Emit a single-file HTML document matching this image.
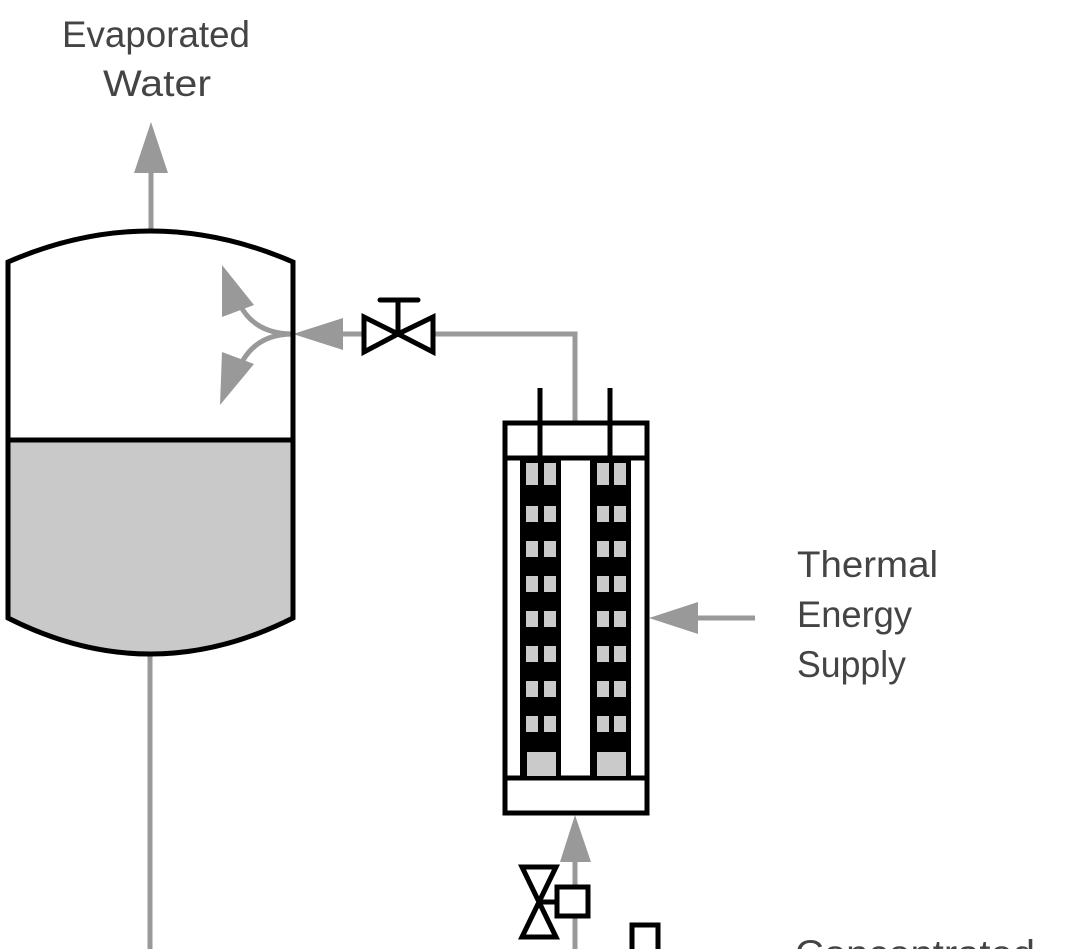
<!DOCTYPE html>
<html><head><meta charset="utf-8"><style>html,body{margin:0;padding:0;background:#fff;width:1066px;height:949px;overflow:hidden}</style></head>
<body>
<svg width="1066" height="949" viewBox="0 0 1066 949" xmlns="http://www.w3.org/2000/svg">
<g font-family="Liberation Sans, sans-serif" font-size="37" fill="#444">
<text x="62" y="47" textLength="188" lengthAdjust="spacingAndGlyphs">Evaporated</text>
<text x="103" y="96" textLength="108" lengthAdjust="spacingAndGlyphs">Water</text>
<text x="797" y="577" textLength="141" lengthAdjust="spacingAndGlyphs">Thermal</text>
<text x="797" y="627" textLength="115" lengthAdjust="spacingAndGlyphs">Energy</text>
<text x="797" y="677" textLength="109" lengthAdjust="spacingAndGlyphs">Supply</text>
<text x="795" y="966" textLength="240" lengthAdjust="spacingAndGlyphs">Concentrated</text>
</g>
<path d="M8,440 L293,440 L293,618 Q150,690 8,618 Z" fill="#c8c9c8"/>
<g stroke="#999" stroke-width="5" fill="none">
<line x1="151" y1="170" x2="151" y2="232"/>
<line x1="150" y1="655" x2="150" y2="949"/>
<polyline points="340,334 575,334 575,423"/>
<line x1="575" y1="860" x2="575" y2="949"/>
<line x1="690" y1="618" x2="755" y2="618"/>
<path d="M293,334 Q255,334 240,305"/>
<path d="M293,334 Q255,334 240,366"/>
</g>
<g fill="#999">
<polygon points="151,122 134,173 168,173"/>
<polygon points="293,334 343,318 343,350"/>
<polygon points="222,265 222,317 254,305"/>
<polygon points="220,405 222,352 254,364"/>
<polygon points="649,618 698,602 698,634"/>
<polygon points="575,815 560,862 591,862"/>
</g>
<path d="M8,618 L8,262 Q150,200 293,262 L293,618 Q150,690 8,618 Z" fill="none" stroke="#000" stroke-width="5"/>
<line x1="8" y1="440" x2="293" y2="440" stroke="#000" stroke-width="5"/>
<g stroke="#000" stroke-width="5" fill="#fff" stroke-linejoin="miter">
<polygon points="364,317 364,352 398,334"/>
<polygon points="433,317 433,352 398,334"/>
<line x1="398" y1="334" x2="398" y2="300"/>
<line x1="380" y1="300" x2="418" y2="300" stroke-linecap="round"/>
</g>
<g stroke="#000" stroke-width="5" fill="none">
<rect x="505" y="423" width="142" height="390" fill="#fff"/>
<line x1="505" y1="458" x2="647" y2="458"/>
<line x1="505" y1="778" x2="647" y2="778"/>
<line x1="540" y1="388" x2="540" y2="458"/>
<line x1="610" y1="388" x2="610" y2="458"/>
</g>
<rect x="520" y="458" width="41" height="320" fill="#000"/>
<rect x="590" y="458" width="41" height="320" fill="#000"/>
<g fill="#cacaca">
<rect x="526" y="463" width="12" height="22"/><rect x="544" y="463" width="12" height="22"/>
<rect x="597" y="463" width="12" height="22"/><rect x="614" y="463" width="12" height="22"/>
<rect x="526" y="506" width="12" height="16"/><rect x="544" y="506" width="12" height="16"/><rect x="597" y="506" width="12" height="16"/><rect x="614" y="506" width="12" height="16"/>
<rect x="526" y="541" width="12" height="16"/><rect x="544" y="541" width="12" height="16"/><rect x="597" y="541" width="12" height="16"/><rect x="614" y="541" width="12" height="16"/>
<rect x="526" y="576" width="12" height="16"/><rect x="544" y="576" width="12" height="16"/><rect x="597" y="576" width="12" height="16"/><rect x="614" y="576" width="12" height="16"/>
<rect x="526" y="611" width="12" height="16"/><rect x="544" y="611" width="12" height="16"/><rect x="597" y="611" width="12" height="16"/><rect x="614" y="611" width="12" height="16"/>
<rect x="526" y="646" width="12" height="16"/><rect x="544" y="646" width="12" height="16"/><rect x="597" y="646" width="12" height="16"/><rect x="614" y="646" width="12" height="16"/>
<rect x="526" y="681" width="12" height="16"/><rect x="544" y="681" width="12" height="16"/><rect x="597" y="681" width="12" height="16"/><rect x="614" y="681" width="12" height="16"/>
<rect x="526" y="716" width="12" height="16"/><rect x="544" y="716" width="12" height="16"/><rect x="597" y="716" width="12" height="16"/><rect x="614" y="716" width="12" height="16"/>
<rect x="527" y="752" width="29" height="24"/><rect x="597" y="752" width="29" height="24"/>
</g>
<g stroke="#000" stroke-width="5" fill="#fff">
<polygon points="522,867 556,867 539,902"/>
<polygon points="522,937 556,937 539,902"/>
<line x1="539" y1="902" x2="557" y2="902"/>
<rect x="557" y="887" width="31" height="29"/>
<rect x="632" y="925" width="26" height="40"/>
</g>
</svg>
</body></html>
